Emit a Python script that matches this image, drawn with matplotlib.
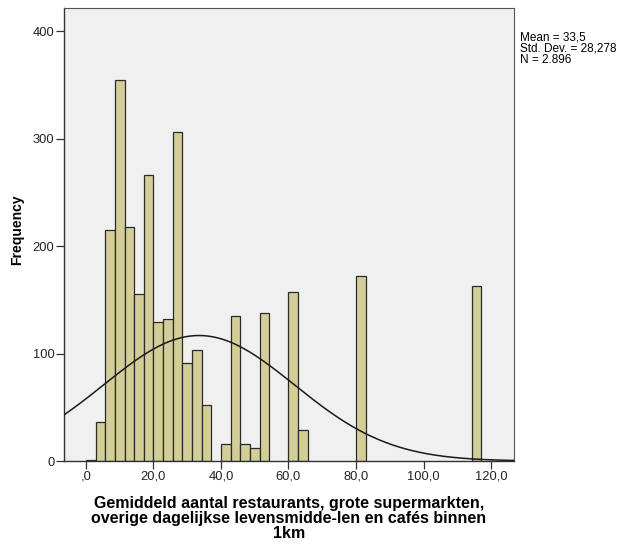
import numpy as np
import matplotlib
matplotlib.use("Agg")
import matplotlib.pyplot as plt

plt.rcParams['font.family'] = ['Liberation Sans', 'DejaVu Sans']

# Histogram bins (width 120/42) and counts per bin
bin_width = 120.0 / 42
counts = [1, 36, 215, 354, 218, 155, 266, 129, 132, 306, 91, 103, 52, 0,
          16, 135, 16, 12, 138, 0, 0, 157, 29, 0, 0, 0, 0, 0, 172, 0, 0, 0,
          0, 0, 0, 0, 0, 0, 0, 0, 163]
mean_val = 33.5
std_val = 28.278
n_val = 2896

x_ticks = [0, 20, 40, 60, 80, 100, 120]
x_tick_labels = [",0", "20,0", "40,0", "60,0", "80,0", "100,0", "120,0"]
y_ticks = [0, 100, 200, 300, 400]
y_tick_labels = ["0", "100", "200", "300", "400"]

fig = plt.figure(figsize=(6.21, 5.45), dpi=100)
ax = fig.add_axes([64 / 621, 1 - 461 / 545, (514 - 64) / 621, (461 - 8) / 545])
ax.set_facecolor('#F0F0F0')

edges = np.arange(len(counts)) * bin_width
for left, c in zip(edges, counts):
    if c > 0:
        ax.bar(left, c, width=bin_width, align='edge', color='#D3CE97',
               edgecolor='#2a2a2a', linewidth=0.9, zorder=2)

# Fitted normal curve scaled to counts
xs = np.linspace(-6.5, 126.8, 400)
ys = n_val * bin_width / (std_val * np.sqrt(2 * np.pi)) * np.exp(-0.5 * ((xs - mean_val) / std_val) ** 2)
ax.plot(xs, ys, color='#1a1a1a', linewidth=1.1, zorder=3)

ax.set_xlim(-6.5, 126.8)
ax.set_ylim(0, 421.4)
ax.set_xticks(x_ticks)
ax.set_xticklabels(x_tick_labels)
ax.set_yticks(y_ticks)
ax.set_yticklabels(y_tick_labels)
ax.tick_params(axis='both', direction='out', length=6, width=0.9, color='#333333',
               labelsize=9.3, labelcolor='#222222', pad=1)
for side in ['left', 'bottom']:
    ax.spines[side].set_color('#333333')
    ax.spines[side].set_linewidth(1.0)
for side in ['top', 'right']:
    ax.spines[side].set_color('#555555')
    ax.spines[side].set_linewidth(0.8)

fig.text(17 / 621, 1 - 230 / 545, 'Frequency', rotation=90, ha='center',
         va='center', fontsize=10, fontweight='bold')
fig.text(289 / 621, 1 - 496 / 545,
         'Gemiddeld aantal restaurants, grote supermarkten,\n'
         'overige dagelijkse levensmidde-len en cafés binnen\n1km',
         ha='center', va='top', fontsize=11.5, fontweight='bold', linespacing=1.02)

fig.text(520 / 621, 1 - 31 / 545,
         'Mean = 33,5\nStd. Dev. = 28,278\nN = 2.896',
         ha='left', va='top', fontsize=8.5, linespacing=0.92)

fig.savefig('out.png', dpi=100)
